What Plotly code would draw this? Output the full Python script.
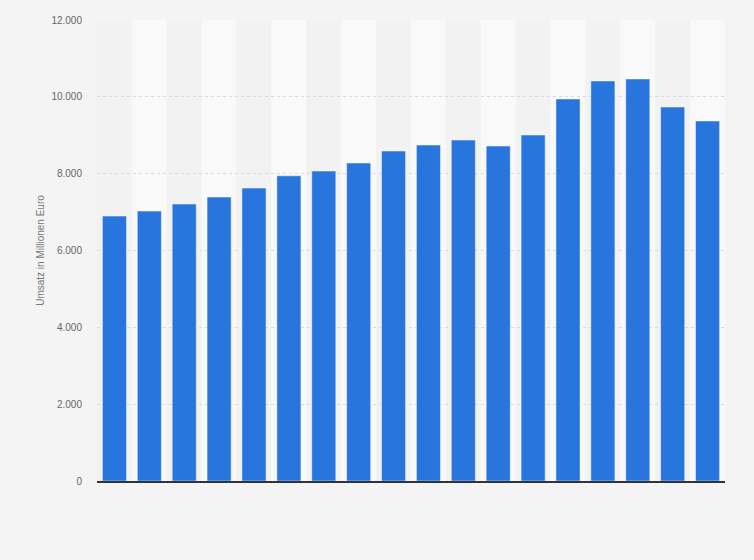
import plotly.graph_objects as go

# Jahre (im Original ohne Achsenbeschriftung)
years = [str(y) for y in range(2004, 2022)]
umsatz = [6895, 7025, 7208, 7390, 7624, 7945, 8067, 8276, 8588,
          8745, 8875, 8718, 9005, 9943, 10412, 10464, 9734, 9370]
y_ticks = [0, 2000, 4000, 6000, 8000, 10000, 12000]

BAR_COLOR = "#2876dd"
PAGE_BG = "#f4f4f4"

fig = go.Figure()
fig.add_trace(go.Bar(
    x=years,
    y=umsatz,
    marker=dict(color=BAR_COLOR, line=dict(color="rgba(255,255,255,0.45)", width=1)),
    hovertemplate="%{x}: %{y:,.0f}<extra></extra>",
))

# alternating column shading behind the bars
shapes = []
for i in range(len(years)):
    shapes.append(dict(
        type="rect", xref="x", yref="paper", layer="below",
        x0=i - 0.5, x1=i + 0.5, y0=0, y1=1,
        fillcolor="#f2f2f2" if i % 2 == 0 else "#f9f9f9",
        line=dict(width=0),
    ))

fig.update_layout(
    width=754,
    height=560,
    margin=dict(l=97, r=29, t=20, b=79),
    paper_bgcolor=PAGE_BG,
    plot_bgcolor=PAGE_BG,
    separators=",.",
    bargap=0.31,
    showlegend=False,
    shapes=shapes,
    font=dict(family="Liberation Sans, Arial, sans-serif", size=10, color="#666666"),
)
fig.update_xaxes(
    showticklabels=False,
    showgrid=False,
    showline=True,
    linecolor="#333333",
    linewidth=1.5,
    ticks="",
)
fig.update_yaxes(
    range=[0, 12000],
    tickvals=y_ticks,
    tickformat=",.0f",
    showgrid=True,
    gridcolor="#dadada",
    griddash="dot",
    zeroline=False,
    showline=False,
    ticks="",
    ticklabelstandoff=14,
    title=dict(text="Umsatz in Millionen Euro", font=dict(size=10, color="#777777"), standoff=4),
)

fig.write_html(
    "out.html",
    config={"displayModeBar": False},
    post_script="document.body.style.margin='0';",
)
